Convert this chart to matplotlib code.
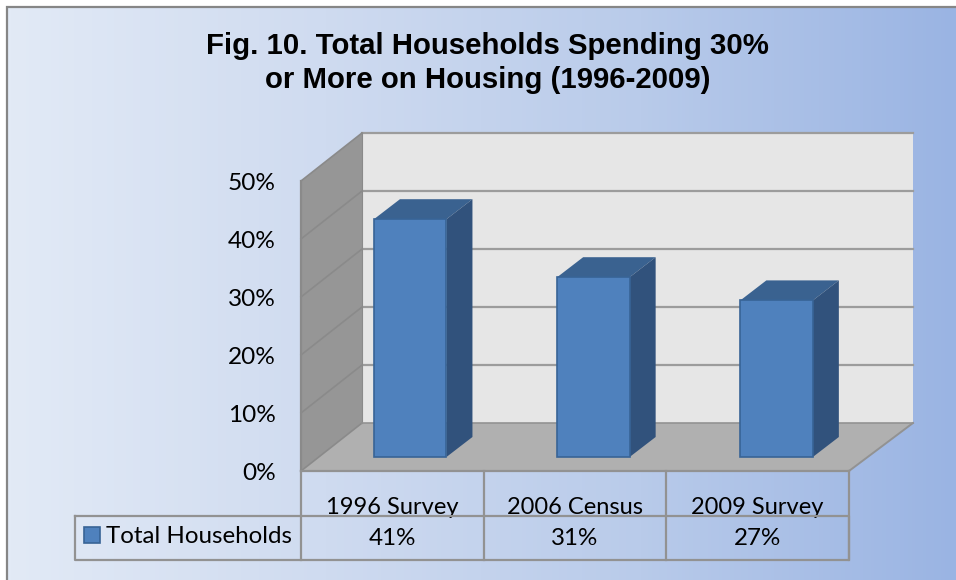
import numpy as np
import matplotlib
matplotlib.use('Agg')
from matplotlib import pyplot as plt
from matplotlib.colors import LinearSegmentedColormap
from matplotlib.patches import Polygon, Rectangle

categories = ['1996 Survey', '2006 Census', '2009 Survey']
values = [41, 31, 27]
value_labels = ['41%', '31%', '27%']
series_name = 'Total Households'
y_ticks = [0, 10, 20, 30, 40, 50]
title = 'Fig. 10. Total Households Spending 30%\nor More on Housing (1996-2009)'

W, H = 956, 580
# front plane of the 3d box, in pixels
LEFT, RIGHT, ZERO, TOP = 301, 849, 471, 181
PX = 3 / (RIGHT - LEFT)
PY = 50 / (ZERO - TOP)

LINE = '#929292'


def add_poly(ax, pts, color, edge=None, lw=0.0, z=1):
    ax.add_patch(Polygon(pts, closed=True, facecolor=color, edgecolor=edge or color,
                         linewidth=lw, zorder=z, clip_on=False))


fig = plt.figure(figsize=(W / 100, H / 100), dpi=100, facecolor='white')

# background gradient, only the top and left border is visible
bg = fig.add_axes([0, 0, 1, 1], zorder=0)
bg.set_xlim(0, W)
bg.set_ylim(H, 0)
bg.axis('off')
cmap = LinearSegmentedColormap.from_list('bg', ['#e2eaf6', '#cfdbf0', '#b9cbea', '#9ab4e3'])
bg.imshow(np.linspace(0, 1, 256).reshape(1, -1), cmap=cmap, extent=(7, W, H, 7), aspect='auto')
bg.set_xlim(0, W)
bg.set_ylim(H, 0)
bg.plot([7, 7, W], [H, 7, 7], color='#868686', lw=1.6, solid_joinstyle='miter')

ax = fig.add_axes([LEFT / W, 1 - ZERO / H, (RIGHT - LEFT) / W, (ZERO - TOP) / H], zorder=1)
ax.patch.set_visible(False)
ax.set_xlim(0, 3)
ax.set_ylim(0, 50)
for s in ax.spines.values():
    s.set_visible(False)

# depth of the box
back_l = 61 * PX
back_r = 3 + 64 * PX
back_dy = 48 * PY

add_poly(ax, [(back_l, back_dy), (back_r, back_dy), (back_r, 50 + back_dy), (back_l, 50 + back_dy)], '#e6e6e6', z=1)
add_poly(ax, [(0, 0), (back_l, back_dy), (back_l, 50 + back_dy), (0, 50)], '#969696', z=1.1)
add_poly(ax, [(0, 0), (3, 0), (back_r, back_dy), (back_l, back_dy)], '#b0b0b0', z=1.2)

for t in y_ticks:
    if t > 0:
        ax.plot([back_l, back_r], [t + back_dy, t + back_dy], color='#9c9c9c', lw=1.6, zorder=1.3, clip_on=False)
    ax.plot([0, back_l], [t, t + back_dy], color='#8a8a8a', lw=1.2, zorder=1.3, clip_on=False)
ax.plot([0, 0], [0, 50], color='#8a8a8a', lw=1.6, zorder=1.4, clip_on=False)
ax.plot([back_l, back_l], [back_dy, 50 + back_dy], color='#8a8a8a', lw=0.8, zorder=1.4, clip_on=False)
ax.plot([3, back_r], [0, back_dy], color=LINE, lw=1.4, zorder=1.4, clip_on=False)
ax.plot([back_l, back_r], [back_dy, back_dy], color=LINE, lw=1.2, zorder=1.4, clip_on=False)

# bars sit part way into the box
x = np.arange(len(values)) + 0.5
bar_w = 72.5 * PX
shift_x = 17.6 * PX
base = 14 * PY
bar_dx = 26 * PX
bar_dy = 20 * PY
bar_x = x * 183.2 * PX + shift_x

ax.bar(bar_x, values, width=bar_w, bottom=base, color='#4f81bd', edgecolor='#386496', linewidth=1.2,
       zorder=3, clip_on=False)
for xi, v in zip(bar_x, values):
    l = xi - bar_w / 2
    r = xi + bar_w / 2
    top = base + v
    add_poly(ax, [(l, top), (r, top), (r + bar_dx, top + bar_dy), (l + bar_dx, top + bar_dy)],
             '#3a6290', z=2.5)
    add_poly(ax, [(r, base), (r + bar_dx, base + bar_dy), (r + bar_dx, top + bar_dy), (r, top)],
             '#31527c', z=2.6)

ax.set_yticks(y_ticks)
ax.set_yticklabels([str(t) + '%' for t in y_ticks], family='Lato', fontsize=17.6, color='black')
ax.tick_params(axis='y', length=0, pad=18)
ax.set_xticks([])

# data table under the box
row1 = (ZERO - 516) * PY
row2 = (ZERO - 560) * PY
legend_l = (75 - LEFT) * PX
for i in range(4):
    ax.plot([i, i], [0, row2], color=LINE, lw=1.6, zorder=4, clip_on=False)
ax.plot([legend_l, 3, 3, legend_l, legend_l], [row1, row1, row2, row2, row1], color=LINE, lw=1.6, zorder=4,
        clip_on=False)
ax.plot([0, 3], [0, 0], color=LINE, lw=1.6, zorder=4, clip_on=False)

for xi, c, lab in zip(x, categories, value_labels):
    ax.text(xi, (ZERO - 514) * PY, c, family='Lato', fontsize=17, ha='center', va='baseline', zorder=3.5)
    ax.text(xi, (ZERO - 545) * PY, lab, family='Lato', fontsize=17.4, ha='center', va='baseline', zorder=5)

ax.add_patch(Rectangle(((84 - LEFT) * PX, (ZERO - 543) * PY), 16 * PX, 16 * PY, facecolor='#4f81bd',
                       edgecolor='#386496', linewidth=1.2, zorder=5, clip_on=False))
ax.text((106 - LEFT) * PX, (ZERO - 543) * PY, series_name, family='Lato', fontsize=17.4, ha='left', va='baseline',
        zorder=5)

fig.text(487.5 / W, 1 - 63 / H, title, family='Liberation Sans', fontweight='bold', fontsize=21.2, ha='center',
         va='center', linespacing=1.28)

fig.savefig('out.png', dpi=100)
